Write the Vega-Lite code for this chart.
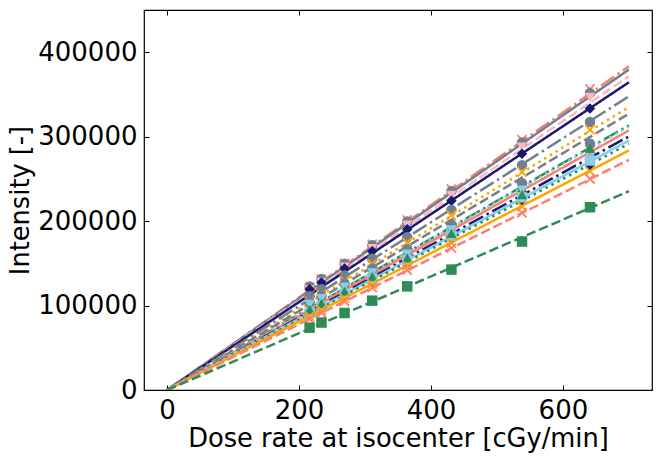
{
  "$schema": "https://vega.github.io/schema/vega-lite/v6.json",
  "width": 508,
  "height": 380,
  "autosize": "none",
  "padding": {"left": 144, "top": 10, "right": 13, "bottom": 71},
  "config": {
    "font": "DejaVu Sans",
    "view": {"stroke": "#000000", "strokeWidth": 1.2},
    "axis": {
      "grid": false,
      "domain": false,
      "tickColor": "#000000",
      "tickSize": -5,
      "tickWidth": 1,
      "labelFont": "DejaVu Sans",
      "labelFontSize": 26,
      "labelColor": "#000000",
      "titleFont": "DejaVu Sans",
      "titleFontSize": 25.7,
      "titleFontWeight": "normal",
      "titleColor": "#000000"
    }
  },
  "datasets": {
    "fits": [
      {"s": "s1", "d": 0, "v": 0}, {"s": "s1", "d": 700, "v": 383400},
      {"s": "s2", "d": 0, "v": 0}, {"s": "s2", "d": 700, "v": 379500},
      {"s": "s3", "d": 0, "v": 0}, {"s": "s3", "d": 700, "v": 371500},
      {"s": "s4", "d": 0, "v": 0}, {"s": "s4", "d": 700, "v": 364400},
      {"s": "s5", "d": 0, "v": 0}, {"s": "s5", "d": 700, "v": 347800},
      {"s": "s6", "d": 0, "v": 0}, {"s": "s6", "d": 700, "v": 335100},
      {"s": "s7", "d": 0, "v": 0}, {"s": "s7", "d": 700, "v": 327200},
      {"s": "s8", "d": 0, "v": 0}, {"s": "s8", "d": 700, "v": 313500},
      {"s": "s9", "d": 0, "v": 0}, {"s": "s9", "d": 700, "v": 312000},
      {"s": "s10", "d": 0, "v": 0}, {"s": "s10", "d": 700, "v": 307400},
      {"s": "s11", "d": 0, "v": 0}, {"s": "s11", "d": 700, "v": 300300},
      {"s": "s12", "d": 0, "v": 0}, {"s": "s12", "d": 700, "v": 295500},
      {"s": "s13", "d": 0, "v": 0}, {"s": "s13", "d": 700, "v": 291600},
      {"s": "s14", "d": 0, "v": 0}, {"s": "s14", "d": 700, "v": 283700},
      {"s": "s15", "d": 0, "v": 0}, {"s": "s15", "d": 700, "v": 272600},
      {"s": "s16", "d": 0, "v": 0}, {"s": "s16", "d": 700, "v": 235400}
    ],
    "points": [
      {"s": "s1", "d": 216, "v": 121800}, {"s": "s1", "d": 234, "v": 131200}, {"s": "s1", "d": 269, "v": 149900}, {"s": "s1", "d": 311, "v": 172600}, {"s": "s1", "d": 364, "v": 201400}, {"s": "s1", "d": 431, "v": 237900}, {"s": "s1", "d": 538, "v": 296300}, {"s": "s1", "d": 641, "v": 356500},
      {"s": "s2", "d": 216, "v": 122700}, {"s": "s2", "d": 234, "v": 131500}, {"s": "s2", "d": 269, "v": 149600}, {"s": "s2", "d": 311, "v": 171500}, {"s": "s2", "d": 364, "v": 199600}, {"s": "s2", "d": 431, "v": 235500}, {"s": "s2", "d": 538, "v": 293200}, {"s": "s2", "d": 641, "v": 351800},
      {"s": "s3", "d": 216, "v": 118600}, {"s": "s3", "d": 234, "v": 127600}, {"s": "s3", "d": 269, "v": 145700}, {"s": "s3", "d": 311, "v": 167600}, {"s": "s3", "d": 364, "v": 195300}, {"s": "s3", "d": 431, "v": 230600}, {"s": "s3", "d": 538, "v": 287800}, {"s": "s3", "d": 641, "v": 346500},
      {"s": "s4", "d": 216, "v": 119300}, {"s": "s4", "d": 234, "v": 127200}, {"s": "s4", "d": 269, "v": 143800}, {"s": "s4", "d": 311, "v": 164200}, {"s": "s4", "d": 364, "v": 190500}, {"s": "s4", "d": 431, "v": 224100}, {"s": "s4", "d": 538, "v": 279800}, {"s": "s4", "d": 641, "v": 333300},
      {"s": "s5", "d": 216, "v": 110900}, {"s": "s5", "d": 234, "v": 119300}, {"s": "s5", "d": 269, "v": 135700}, {"s": "s5", "d": 311, "v": 155500}, {"s": "s5", "d": 364, "v": 180800}, {"s": "s5", "d": 431, "v": 213300}, {"s": "s5", "d": 538, "v": 266300}, {"s": "s5", "d": 641, "v": 317300},
      {"s": "s6", "d": 216, "v": 104700}, {"s": "s6", "d": 234, "v": 113000}, {"s": "s6", "d": 269, "v": 129500}, {"s": "s6", "d": 311, "v": 149300}, {"s": "s6", "d": 364, "v": 174700}, {"s": "s6", "d": 431, "v": 206900}, {"s": "s6", "d": 538, "v": 258200}, {"s": "s6", "d": 641, "v": 308200},
      {"s": "s7", "d": 216, "v": 104300}, {"s": "s7", "d": 234, "v": 111500}, {"s": "s7", "d": 269, "v": 126000}, {"s": "s7", "d": 311, "v": 143900}, {"s": "s7", "d": 364, "v": 166700}, {"s": "s7", "d": 431, "v": 196100}, {"s": "s7", "d": 538, "v": 244800}, {"s": "s7", "d": 641, "v": 291600},
      {"s": "s8", "d": 216, "v": 97200}, {"s": "s8", "d": 234, "v": 104900}, {"s": "s8", "d": 269, "v": 120000}, {"s": "s8", "d": 311, "v": 138300}, {"s": "s8", "d": 364, "v": 161600}, {"s": "s8", "d": 431, "v": 191400}, {"s": "s8", "d": 538, "v": 238900}, {"s": "s8", "d": 641, "v": 284600},
      {"s": "s9", "d": 216, "v": 101500}, {"s": "s9", "d": 234, "v": 108300}, {"s": "s9", "d": 269, "v": 121900}, {"s": "s9", "d": 311, "v": 138700}, {"s": "s9", "d": 364, "v": 160900}, {"s": "s9", "d": 431, "v": 189600}, {"s": "s9", "d": 538, "v": 236700}, {"s": "s9", "d": 641, "v": 276000},
      {"s": "s10", "d": 216, "v": 93300}, {"s": "s10", "d": 234, "v": 101100}, {"s": "s10", "d": 269, "v": 116200}, {"s": "s10", "d": 311, "v": 134400}, {"s": "s10", "d": 364, "v": 157200}, {"s": "s10", "d": 431, "v": 186200}, {"s": "s10", "d": 538, "v": 232400}, {"s": "s10", "d": 641, "v": 276900},
      {"s": "s11", "d": 216, "v": 89600}, {"s": "s11", "d": 234, "v": 97100}, {"s": "s11", "d": 269, "v": 111600}, {"s": "s11", "d": 311, "v": 129100}, {"s": "s11", "d": 364, "v": 151100}, {"s": "s11", "d": 431, "v": 178900}, {"s": "s11", "d": 538, "v": 223300}, {"s": "s11", "d": 641, "v": 266000},
      {"s": "s12", "d": 216, "v": 91600}, {"s": "s12", "d": 234, "v": 99200}, {"s": "s12", "d": 269, "v": 114100}, {"s": "s12", "d": 311, "v": 131900}, {"s": "s12", "d": 364, "v": 154300}, {"s": "s12", "d": 431, "v": 182700}, {"s": "s12", "d": 538, "v": 228100}, {"s": "s12", "d": 641, "v": 271800},
      {"s": "s13", "d": 216, "v": 95300}, {"s": "s13", "d": 234, "v": 102600}, {"s": "s13", "d": 269, "v": 117000}, {"s": "s13", "d": 311, "v": 134500}, {"s": "s13", "d": 364, "v": 156500}, {"s": "s13", "d": 431, "v": 185300}, {"s": "s13", "d": 538, "v": 231300}, {"s": "s13", "d": 641, "v": 286200},
      {"s": "s14", "d": 216, "v": 87300}, {"s": "s14", "d": 234, "v": 94500}, {"s": "s14", "d": 269, "v": 108700}, {"s": "s14", "d": 311, "v": 125600}, {"s": "s14", "d": 364, "v": 147100}, {"s": "s14", "d": 431, "v": 174100}, {"s": "s14", "d": 538, "v": 217400}, {"s": "s14", "d": 641, "v": 259000},
      {"s": "s15", "d": 216, "v": 84200}, {"s": "s15", "d": 234, "v": 91300}, {"s": "s15", "d": 269, "v": 104900}, {"s": "s15", "d": 311, "v": 121300}, {"s": "s15", "d": 364, "v": 142000}, {"s": "s15", "d": 431, "v": 168100}, {"s": "s15", "d": 538, "v": 209800}, {"s": "s15", "d": 641, "v": 250000},
      {"s": "s16", "d": 216, "v": 73800}, {"s": "s16", "d": 234, "v": 79900}, {"s": "s16", "d": 269, "v": 91200}, {"s": "s16", "d": 311, "v": 105800}, {"s": "s16", "d": 364, "v": 122700}, {"s": "s16", "d": 431, "v": 142600}, {"s": "s16", "d": 538, "v": 175800}, {"s": "s16", "d": 641, "v": 216400}
    ]
  },
  "resolve": {"axis": {"x": "independent", "y": "independent"}},
  "layer": [
    {
      "data": {"name": "fits"},
      "mark": {"type": "line", "strokeWidth": 2.5, "clip": true},
      "encoding": {
        "x": {
          "field": "d",
          "type": "quantitative",
          "scale": {"domain": [-35, 735], "nice": false, "zero": false},
          "axis": {"orient": "bottom", "values": [0, 200, 400, 600], "title": "Dose rate at isocenter [cGy/min]", "labelPadding": 12, "titlePadding": 3, "format": "d"}
        },
        "y": {
          "field": "v",
          "type": "quantitative",
          "scale": {"domain": [0, 450000], "nice": false},
          "axis": {"orient": "left", "values": [0, 100000, 200000, 300000, 400000], "title": "Intensity [-]", "labelPadding": 12, "titlePadding": 4, "format": "d"}
        },
        "color": {
          "field": "s",
          "type": "nominal",
          "legend": null,
          "scale": {
            "domain": ["s1", "s2", "s3", "s4", "s5", "s6", "s7", "s8", "s9", "s10", "s11", "s12", "s13", "s14", "s15", "s16"],
            "range": ["#FA8072", "#708090", "#FFB6C1", "#191970", "#708090", "#FFA500", "#708090", "#2E8B57", "#87CEEB", "#FA8072", "#191970", "#87CEEB", "#2E8B57", "#FFA500", "#FA8072", "#2E8B57"]
          }
        },
        "strokeDash": {
          "field": "s",
          "type": "nominal",
          "legend": null,
          "scale": {
            "domain": ["s1", "s2", "s3", "s4", "s5", "s6", "s7", "s8", "s9", "s10", "s11", "s12", "s13", "s14", "s15", "s16"],
            "range": [[16, 4, 2.5, 4], [1, 0], [9.5, 4], [1, 0], [16, 4, 2.5, 4], [2.5, 4.2], [9.5, 4], [16, 4, 2.5, 4], [2.5, 4.2], [1, 0], [16, 4, 2.5, 4], [1, 0], [2.5, 4.2], [1, 0], [9.5, 4], [9.5, 4]]
          }
        }
      }
    },
    {
      "data": {"name": "points"},
      "mark": {"type": "point", "filled": true, "size": 110, "opacity": 1},
      "encoding": {
        "x": {
          "field": "d",
          "type": "quantitative",
          "axis": {"orient": "top", "values": [0, 200, 400, 600], "labels": false, "title": null}
        },
        "y": {
          "field": "v",
          "type": "quantitative",
          "axis": {"orient": "right", "values": [0, 100000, 200000, 300000, 400000], "labels": false, "title": null}
        },
        "color": {"field": "s", "type": "nominal", "legend": null},
        "shape": {
          "field": "s",
          "type": "nominal",
          "legend": null,
          "scale": {
            "domain": ["s1", "s2", "s3", "s4", "s5", "s6", "s7", "s8", "s9", "s10", "s11", "s12", "s13", "s14", "s15", "s16"],
            "range": [
              "M-1,-0.75L-0.75,-1L0,-0.25L0.75,-1L1,-0.75L0.25,0L1,0.75L0.75,1L0,0.25L-0.75,1L-1,0.75L-0.25,0Z",
              "circle", "triangle-down", "diamond", "circle",
              "M-1,-0.75L-0.75,-1L0,-0.25L0.75,-1L1,-0.75L0.25,0L1,0.75L0.75,1L0,0.25L-0.75,1L-1,0.75L-0.25,0Z",
              "circle", "triangle-up", "triangle-down", "triangle-up", "diamond", "square", "triangle-up",
              "M-1,-0.75L-0.75,-1L0,-0.25L0.75,-1L1,-0.75L0.25,0L1,0.75L0.75,1L0,0.25L-0.75,1L-1,0.75L-0.25,0Z",
              "M-1,-0.75L-0.75,-1L0,-0.25L0.75,-1L1,-0.75L0.25,0L1,0.75L0.75,1L0,0.25L-0.75,1L-1,0.75L-0.25,0Z",
              "square"
            ]
          }
        }
      }
    }
  ]
}
